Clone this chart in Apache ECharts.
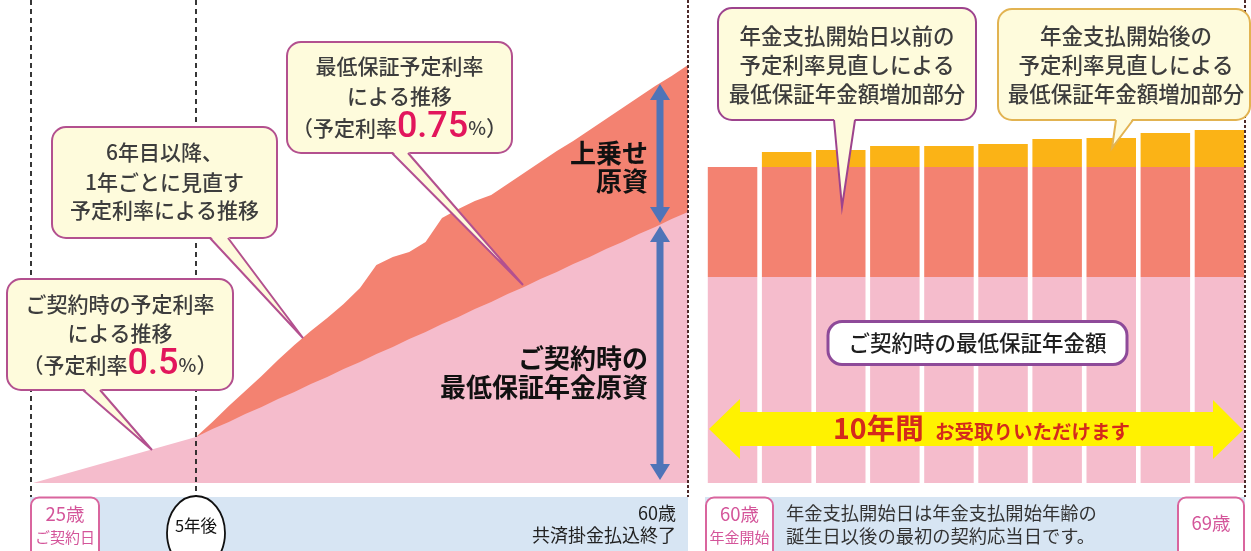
<!DOCTYPE html>
<html><head><meta charset="utf-8">
<script src="https://cdn.jsdelivr.net/npm/echarts@6/dist/echarts.min.js"></script>
<style>html,body{margin:0;padding:0;background:#fff}#c{width:1251px;height:551px}</style>
</head><body><div id="c"></div>
<script>
// ---- data (arbitrary units) ----
const earlyYears = [0, 5];               // years since contract (25歳 → 5年後)
const earlyBase = [0, 46];
const laterYears = [5,6,7,8,9,10,11,12,13,14,15,16,17,18,19,20,21,22,23,24,25,26,27,28,29,30,31,32,33,34,35];
const laterBase  = [46,54,61,69,76,84,91,99,106,114,121,129,136,144,151,159,166,174,181,189,196,204,211,219,226,234,241,249,256,264,271];
const laterTotal = [46,61,77,92,107,123,138,152,165,179,195,218,226,231,241,265,274,282,288,299,310,321,332,342,353,364,375,386,397,407,418];
const payoutAges = ['60歳','61歳','62歳','63歳','64歳','65歳','66歳','67歳','68歳','69歳'];
const payoutBase = [206,206,206,206,206,206,206,206,206,206];
const payoutPreStartBoost = [110,110,110,110,110,110,110,110,110,110];
const payoutPostStartBoost = [0,15,17,21,21,23,28,29,34,37];

const FONT = '"Noto Sans CJK JP", "Noto Sans CJK SC", sans-serif';
const PINK = '#f5bccc', SALMON = '#f38271', ORANGE = '#fbb316', BAND = '#d7e5f3';
const CREAM = '#fefbdc';

function txt(x, y, text, size, opts) {
  opts = opts || {};
  return {type:'text', x:x, y:y, z:opts.z || 110, silent:true,
    style:Object.assign({text:text, fontSize:size, fontFamily:FONT, fontWeight:opts.weight || 500,
      fill:opts.fill || '#3d3d3d', align:opts.align || 'center', verticalAlign:'middle',
      lineHeight:opts.lh || size * 1.4}, opts.rich ? {rich:opts.rich} : {})};
}
function rrect(x, y, w, h, r, fill, stroke, lw, z) {
  return {type:'rect', z:z || 100, silent:true, shape:{x:x, y:y, width:w, height:h, r:r},
    style:{fill:fill, stroke:stroke || null, lineWidth:lw || 0}};
}
function vline(x, y1, y2, color, dash, w) {
  return {type:'line', z:90, silent:true, shape:{x1:x, y1:y1, x2:x, y2:y2},
    style:{stroke:color, lineWidth:w || 1.8, lineDash:dash}};
}
function callout(b, tail, border, z) {
  const bot = b.y + b.h;
  return [
    rrect(b.x, b.y, b.w, b.h, 14, CREAM, border, 2, z),
    {type:'polygon', z:z + 1, silent:true, shape:{points:[[tail[0], bot - 2], [tail[2], tail[3]], [tail[1], bot - 2]]},
      style:{fill:CREAM}},
    {type:'polyline', z:z + 2, silent:true, shape:{points:[[tail[0], bot], [tail[2], tail[3]], [tail[1], bot]]},
      style:{stroke:border, lineWidth:2, fill:null, lineJoin:'miter'}}
  ];
}
function dblArrow(x, yTop, yBot, color) {
  const hw = 10, hl = 16, sw = 3.5;
  return {type:'polygon', z:105, silent:true, shape:{points:[
    [x, yTop], [x + hw, yTop + hl], [x + sw, yTop + hl], [x + sw, yBot - hl], [x + hw, yBot - hl],
    [x, yBot], [x - hw, yBot - hl], [x - sw, yBot - hl], [x - sw, yTop + hl], [x - hw, yTop + hl]]},
    style:{fill:color}};
}

const redRich = {
  r:{fontSize:36, fontFamily:'Roboto, "Liberation Sans", sans-serif', fontWeight:500, fill:'#e2165c'},
  p:{fontSize:19, fontFamily:FONT, fontWeight:500, fill:'#3d3d3d'}
};

const graphics = [
  // bottom bands
  rrect(30, 497, 658, 60, 0, BAND, null, 0, 80),
  rrect(705, 497, 540, 60, 0, BAND, null, 0, 80),
  // dashed reference lines
  vline(31, 0, 497, '#222', [5, 4]),
  vline(196, 0, 497, '#222', [5, 4]),
  vline(688, 0, 497, '#4e2a2a', [3, 2], 2),
  vline(1245, 0, 497, '#4e2a2a', [3, 2], 2),
  // 25歳 box
  rrect(31, 497.5, 68, 64, 8, '#fff', '#d9659e', 2, 95),
  txt(65, 514, '25歳', 18.5, {fill:'#d4559a', weight:400}),
  txt(65, 537, 'ご契約日', 15, {fill:'#d4559a', weight:400}),
  // 5年後 ellipse
  {type:'ellipse', z:95, silent:true, shape:{cx:196, cy:533, rx:29, ry:37}, style:{fill:'#fff', stroke:'#111', lineWidth:1.8}},
  txt(196, 526, '5年後', 16.5, {fill:'#111', weight:400}),
  // 60歳 払込終了
  txt(676, 513, '60歳', 18, {fill:'#222', weight:400, align:'right'}),
  txt(676, 535, '共済掛金払込終了', 18, {fill:'#222', weight:400, align:'right'}),
  // 60歳 年金開始 box
  rrect(706, 497.5, 67, 64, 8, '#fff', '#d9659e', 2, 95),
  txt(739.5, 514, '60歳', 18.5, {fill:'#d4559a', weight:400}),
  txt(739.5, 537, '年金開始', 15, {fill:'#d4559a', weight:400}),
  txt(786, 513, '年金支払開始日は年金支払開始年齢の', 18.3, {fill:'#333', weight:400, align:'left'}),
  txt(786, 536, '誕生日以後の最初の契約応当日です。', 18.3, {fill:'#333', weight:400, align:'left'}),
  // 69歳 box
  rrect(1178, 497.5, 66, 64, 8, '#fff', '#d9659e', 2, 95),
  txt(1211, 523, '69歳', 18.5, {fill:'#d4559a', weight:400}),
  // blue double arrows
  dblArrow(660, 84, 223, '#4f74b8'),
  dblArrow(660, 226, 480, '#4f74b8'),
  // bold labels
  txt(648, 153, '上乗せ', 26, {fill:'#111', weight:'bold', align:'right'}),
  txt(648, 181, '原資', 26, {fill:'#111', weight:'bold', align:'right'}),
  txt(648, 358, 'ご契約時の', 26, {fill:'#111', weight:'bold', align:'right'}),
  txt(648, 387, '最低保証年金原資', 26, {fill:'#111', weight:'bold', align:'right'}),
  // callout 1
  ...callout({x:7, y:279, w:226, h:111}, [83, 100, 152, 450], '#b3508f', 100),
  txt(120, 304, 'ご契約時の予定利率', 21),
  txt(120, 333, 'による推移', 21),
  txt(120, 365, '（予定利率{r|0.5}{p|%}）', 21, {rich:redRich}),
  // callout 2
  ...callout({x:52, y:127, w:225, h:111}, [210, 228, 303, 338], '#b3508f', 100),
  txt(164.5, 152, '6年目以降、', 21),
  txt(164.5, 182, '1年ごとに見直す', 21),
  txt(164.5, 210, '予定利率による推移', 21),
  // callout 3
  ...callout({x:287, y:42, w:225, h:111}, [392, 408, 523, 285], '#b3508f', 100),
  txt(399.5, 66, '最低保証予定利率', 21),
  txt(399.5, 96, 'による推移', 21),
  txt(399.5, 128, '（予定利率{r|0.75}{p|%}）', 21, {rich:redRich}),
  // callout 4 (right)
  ...callout({x:718, y:8, w:258, h:112}, [834, 855, 842, 207], '#9d438d', 100),
  txt(847, 36, '年金支払開始日以前の', 21.5),
  txt(847, 65, '予定利率見直しによる', 21.5),
  txt(847, 94, '最低保証年金額増加部分', 21.5),
  // callout 5 (right)
  ...callout({x:998, y:9, w:252, h:111}, [1116, 1133, 1112, 148], '#e2b351', 100),
  txt(1126, 36, '年金支払開始後の', 21.5),
  txt(1126, 65, '予定利率見直しによる', 21.5),
  txt(1126, 94, '最低保証年金額増加部分', 21.5),
  // white label box
  rrect(828, 321.5, 299, 43, 14, '#fff', '#8e4a99', 3, 100),
  txt(977.5, 343, 'ご契約時の最低保証年金額', 21.5, {fill:'#1e1e1e'}),
  // yellow arrow
  {type:'polygon', z:100, silent:true, shape:{points:[
    [709, 429], [740, 399], [740, 412], [1213, 412], [1213, 400], [1243, 430],
    [1213, 459], [1213, 446], [740, 446], [740, 459]]}, style:{fill:'#fff200'}},
  txt(833, 428, '10年間', 28.5, {fill:'#d42a1c', weight:'bold', align:'left'}),
  txt(935, 432, 'お受取りいただけます', 19.5, {fill:'#d42a1c', weight:'bold', align:'left'})
];

const chart = echarts.init(document.getElementById('c'), null, {renderer:'canvas'});
const hiddenAxis = {show:false, splitLine:{show:false}, axisLine:{show:false}, axisTick:{show:false}, axisLabel:{show:false}};
chart.setOption({
  animation:false,
  backgroundColor:'#ffffff',
  grid:[
    {left:33, width:163, top:0, height:483},
    {left:196, width:492, top:0, height:483},
    {left:705.5, width:541, top:0, height:483}
  ],
  xAxis:[
    Object.assign({gridIndex:0, type:'value', min:0, max:5}, hiddenAxis),
    Object.assign({gridIndex:1, type:'value', min:5, max:35}, hiddenAxis),
    Object.assign({gridIndex:2, type:'category', data:payoutAges, boundaryGap:true}, hiddenAxis)
  ],
  yAxis:[
    Object.assign({gridIndex:0, type:'value', min:0, max:483}, hiddenAxis),
    Object.assign({gridIndex:1, type:'value', min:0, max:483}, hiddenAxis),
    Object.assign({gridIndex:2, type:'value', min:0, max:483}, hiddenAxis)
  ],
  series:[
    {type:'line', name:'ご契約時の予定利率による推移', xAxisIndex:0, yAxisIndex:0, z:3, silent:true,
      data:earlyYears.map((x, i) => [x, earlyBase[i]]), symbol:'none', lineStyle:{width:0},
      areaStyle:{color:PINK, opacity:1}},
    {type:'line', name:'上乗せ原資', xAxisIndex:1, yAxisIndex:1, z:2, silent:true,
      data:laterYears.map((x, i) => [x, laterTotal[i]]), symbol:'none', lineStyle:{width:0},
      areaStyle:{color:SALMON, opacity:1}},
    {type:'line', name:'ご契約時の最低保証年金原資', xAxisIndex:1, yAxisIndex:1, z:3, silent:true,
      data:laterYears.map((x, i) => [x, laterBase[i]]), symbol:'none', lineStyle:{width:0},
      areaStyle:{color:PINK, opacity:1}},
    {type:'bar', name:'ご契約時の最低保証年金額', xAxisIndex:2, yAxisIndex:2, stack:'p', barWidth:49.5, silent:true,
      data:payoutBase, itemStyle:{color:PINK}},
    {type:'bar', name:'年金支払開始日以前の増加部分', xAxisIndex:2, yAxisIndex:2, stack:'p', barWidth:49.5, silent:true,
      data:payoutPreStartBoost, itemStyle:{color:SALMON}},
    {type:'bar', name:'年金支払開始後の増加部分', xAxisIndex:2, yAxisIndex:2, stack:'p', barWidth:49.5, silent:true,
      data:payoutPostStartBoost, itemStyle:{color:ORANGE}}
  ],
  graphic:{elements:graphics}
});
</script>
</body></html>
